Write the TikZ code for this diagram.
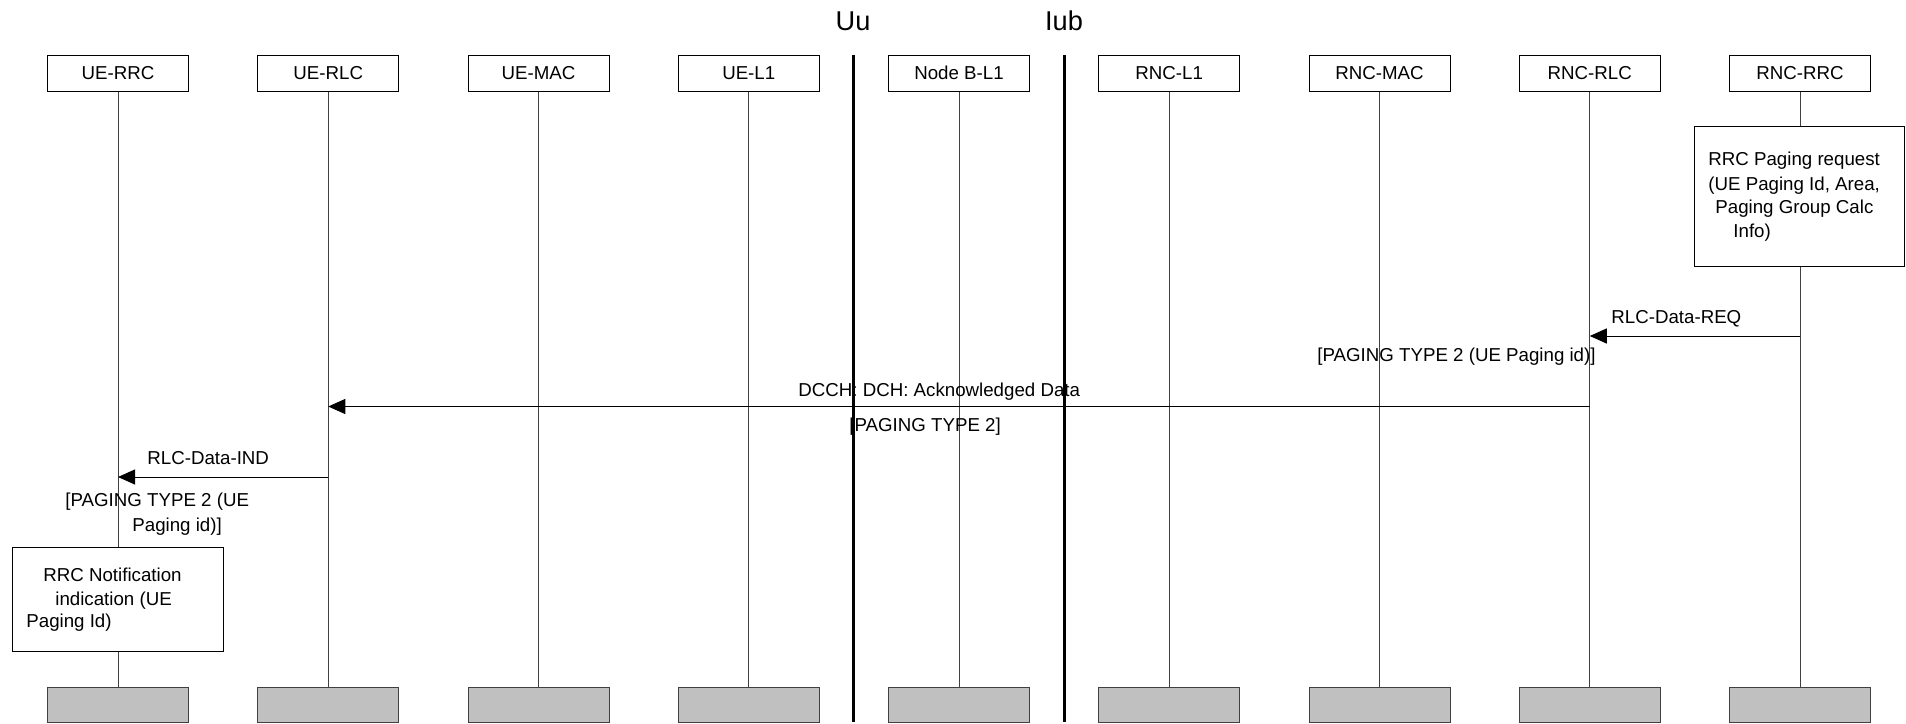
\documentclass[tikz,border=0pt]{standalone}
\usepackage{fontspec}
\setmainfont{Liberation Sans}
\usetikzlibrary{arrows.meta}
\definecolor{tailgray}{RGB}{192,192,192}
\begin{document}
\begin{tikzpicture}[x=0.5pt,y=-0.5pt,
  lbl/.style={font=\fontsize{9.35}{11}\selectfont, inner sep=0pt, anchor=west},
  head/.style={draw, line width=0.5pt, minimum width=70.5pt, minimum height=17.75pt, inner sep=0pt, font=\fontsize{9.35}{11}\selectfont},
  tail/.style={draw=black!75, fill=tailgray, line width=0.5pt, minimum width=70.5pt, minimum height=17.5pt, inner sep=0pt},
  life/.style={draw=black!75, line width=0.5pt},
  sep/.style={line width=1.5pt},
  iface/.style={font=\fontsize{13.6}{16}\selectfont, inner sep=0pt},
  msg/.style={line width=0.5pt, -{Triangle[length=8.5pt,width=7.5pt]}},
  act/.style={draw, fill=white, line width=0.5pt, inner sep=0pt}
]
\useasboundingbox (0,0) rectangle (1906,723);

% heads
\node[head] (h1) at (118,73.25) {UE-RRC};
\node[head] (h2) at (328.25,73.25) {UE-RLC};
\node[head] (h3) at (538.5,73.25) {UE-MAC};
\node[head] (h4) at (748.75,73.25) {UE-L1};
\node[head] (h5) at (959,73.25) {Node B-L1};
\node[head] (h6) at (1169.25,73.25) {RNC-L1};
\node[head] (h7) at (1379.5,73.25) {RNC-MAC};
\node[head] (h8) at (1589.75,73.25) {RNC-RLC};
\node[head] (h9) at (1800,73.25) {RNC-RRC};

% tails
\node[tail] (t1) at (118,705) {};
\node[tail] (t2) at (328.25,705) {};
\node[tail] (t3) at (538.5,705) {};
\node[tail] (t4) at (748.75,705) {};
\node[tail] (t5) at (959,705) {};
\node[tail] (t6) at (1169.25,705) {};
\node[tail] (t7) at (1379.5,705) {};
\node[tail] (t8) at (1589.75,705) {};
\node[tail] (t9) at (1800,705) {};

% lifelines
\foreach \i in {1,...,9} { \draw[life] (h\i) -- (t\i); }

% interface separators
\coordinate (uutop) at (853,55);
\coordinate (uubot) at (853,722);
\coordinate (iubtop) at (1064,55);
\coordinate (iubbot) at (1064,722);
\draw[sep] (uutop) -- (uubot);
\draw[sep] (iubtop) -- (iubbot);
\node[iface] (uu) at (853,21) {Uu};
\node[iface] (iub) at (1064,21) {Iub};

% RRC paging request box
\node[act, minimum width=105pt, minimum height=70pt] (req) at (1799,196) {};
\node[lbl] (req1) at (1708,161) {RRC Paging request};
\node[lbl] (req2) at (1708,186) {(UE Paging Id, Area,};
\node[lbl] (req3) at (1715,209) {Paging Group Calc};
\node[lbl] (req4) at (1733,233) {Info)};

% message rows
\coordinate (m1) at (0,336);
\coordinate (m2) at (0,406.5);
\coordinate (m3) at (0,477);

\draw[msg] (h9 |- m1) -- (h8 |- m1);
\node[lbl] (m1a) at (1611,319) {RLC-Data-REQ};
\node[lbl] (m1b) at (1317,357) {[PAGING TYPE 2 (UE Paging id)]};

\draw[msg] (h8 |- m2) -- (h2 |- m2);
\node[lbl] (m2a) at (798,392) {DCCH: DCH: Acknowledged Data};
\node[lbl] (m2b) at (849,427) {[PAGING TYPE 2]};

\draw[msg] (h2 |- m3) -- (h1 |- m3);
\node[lbl] (m3a) at (147,458) {RLC-Data-IND};
\node[lbl] (m3b) at (65,502) {[PAGING TYPE 2 (UE};
\node[lbl] (m3c) at (132,527) {Paging id)]};

% RRC notification box
\node[act, minimum width=105.5pt, minimum height=52pt] (ntf) at (117.5,599) {};
\node[lbl] (ntf1) at (43,575) {RRC Notification};
\node[lbl] (ntf2) at (55,601) {indication (UE};
\node[lbl] (ntf3) at (26,623) {Paging Id)};
\end{tikzpicture}
\end{document}
